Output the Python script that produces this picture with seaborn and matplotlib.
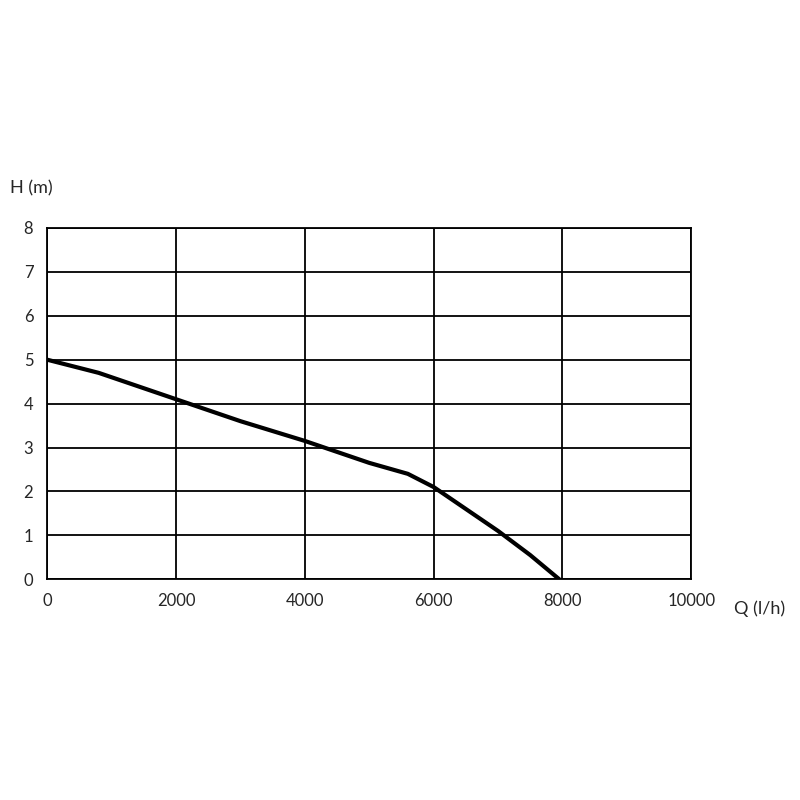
import matplotlib
matplotlib.use("Agg")
import matplotlib.pyplot as plt
import seaborn as sns
import pandas as pd

q = [0, 800, 1500, 2000, 3000, 4000, 5000, 5600, 6000, 6500, 7000, 7500, 7950]
h = [5.0, 4.7, 4.35, 4.1, 3.6, 3.15, 2.65, 2.4, 2.1, 1.6, 1.1, 0.55, 0.0]
xticks = [0, 2000, 4000, 6000, 8000, 10000]
yticks = [0, 1, 2, 3, 4, 5, 6, 7, 8]

sns.set_style("white")
plt.rcParams['font.family'] = ['Lato', 'DejaVu Sans']
fig = plt.figure(figsize=(8, 8), dpi=100)
ax = fig.add_axes([0.059, 0.276, 0.805, 0.439])
df = pd.DataFrame({"Q": q, "H": h})
sns.lineplot(data=df, x="Q", y="H", ax=ax, color="black", linewidth=3)
ax.set_xlim(0, 10000); ax.set_ylim(0, 8)
ax.set_xticks(xticks); ax.set_yticks(yticks)
ax.set_xticklabels([str(t) for t in xticks], fontsize=12)
ax.set_yticklabels([str(t) for t in yticks], fontsize=12)
ax.grid(True, color="black", linewidth=1.3)
for s in ax.spines.values():
    s.set_color("black"); s.set_linewidth(1.3)
ax.tick_params(length=0, pad=10)
ax.set_xlabel(""); ax.set_ylabel("")
fig.text(0.012, 0.758, "H (m)", fontsize=13)
fig.text(0.918, 0.233, "Q (l/h)", fontsize=13)
fig.savefig("out.png")
